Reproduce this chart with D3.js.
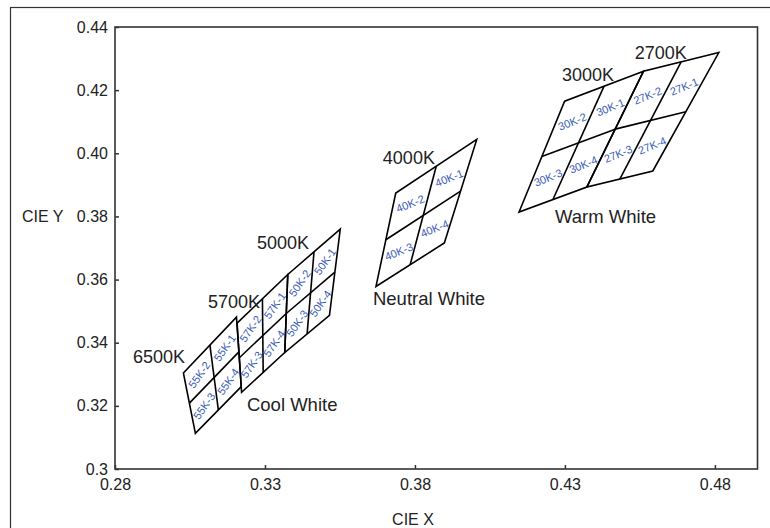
<!DOCTYPE html>
<html>
<head>
<meta charset="utf-8">
<script src="https://cdn.jsdelivr.net/npm/d3@7"></script>
<style>
  body { margin: 0; background: #fff; }
  svg { display: block; }
</style>
</head>
<body>
<script>
// ANSI quadrangle corners, order: top-right, top-left, bottom-left, bottom-right
const q6500 = [[0.3205, 0.3481], [0.3028, 0.3304], [0.3068, 0.3113], [0.3221, 0.3261]]
const q5700 = [[0.3376, 0.3616], [0.3207, 0.3462], [0.3222, 0.3243], [0.3366, 0.3369]]
const q5000 = [[0.3551, 0.3760], [0.3376, 0.3616], [0.3366, 0.3369], [0.3515, 0.3487]]
const q4000 = [[0.4006, 0.4044], [0.3736, 0.3874], [0.3670, 0.3578], [0.3898, 0.3716]]
const q3000 = [[0.4562, 0.4260], [0.4299, 0.4165], [0.4147, 0.3814], [0.4373, 0.3893]]
const q2700 = [[0.4813, 0.4319], [0.4562, 0.4260], [0.4373, 0.3893], [0.4593, 0.3944]]

const quads = [q6500, q5700, q5000, q4000, q3000, q2700]
const binCodes = ['55K', '57K', '50K', '40K', '30K', '27K']
const binAngles = [-55, -55, -55, -22, -22, -22]

const cctLabels = ['6500K', '5700K', '5000K', '4000K', '3000K', '2700K']
const cctLabelPos = [[0.2860, 0.3336], [0.3110, 0.3510], [0.3273, 0.3697], [0.3693, 0.3966], [0.4290, 0.4229], [0.4533, 0.4299]]

const groupLabels = ['Cool White', 'Neutral White', 'Warm White']
const groupLabelPos = [[0.3240, 0.3184], [0.3660, 0.3519], [0.4267, 0.3779]]

const xTicks = [0.28, 0.33, 0.38, 0.43, 0.48]
const xTickLabels = ['0.28', '0.33', '0.38', '0.43', '0.48']
const yTicks = [0.30, 0.32, 0.34, 0.36, 0.38, 0.40, 0.42, 0.44]
const yTickLabels = ['0.3', '0.32', '0.34', '0.36', '0.38', '0.40', '0.42', '0.44']

const W = 770
const H = 528
const font = 'Liberation Sans, Arial, sans-serif'

const svg = d3.select('body').append('svg').attr('width', W).attr('height', H)

// outer figure frame
svg.append('rect').attr('x', 10.5).attr('y', 7.5).attr('width', W).attr('height', H)
  .attr('fill', 'none').attr('stroke', '#333').attr('stroke-width', 1.2)

const x = d3.scaleLinear().domain([0.28, 0.4942]).range([115, 757.5])
const y = d3.scaleLinear().domain([0.3, 0.44]).range([469, 27])

const xAxis = d3.axisBottom(x).tickValues(xTicks)
  .tickFormat((d, i) => xTickLabels[i]).tickSize(-4).tickPadding(10)
const yAxis = d3.axisLeft(y).tickValues(yTicks)
  .tickFormat((d, i) => yTickLabels[i]).tickSize(-4).tickPadding(7)

const gx = svg.append('g').attr('transform', `translate(0,${y.range()[0]})`).call(xAxis)
const gy = svg.append('g').attr('transform', `translate(${x.range()[0]},0)`).call(yAxis)

for (const g of [gx, gy]) {
  g.select('.domain').remove()
  g.selectAll('.tick line').attr('stroke', '#333').attr('stroke-width', 1.5)
  g.selectAll('.tick text').attr('font-family', font).attr('font-size', 16).attr('fill', '#222')
}

// plot box
svg.append('rect')
  .attr('x', x.range()[0]).attr('y', y.range()[1])
  .attr('width', x.range()[1] - x.range()[0]).attr('height', y.range()[0] - y.range()[1])
  .attr('fill', 'none').attr('stroke', '#333').attr('stroke-width', 1.6)

svg.append('text').attr('x', 22).attr('y', 222)
  .attr('font-family', font).attr('font-size', 16).attr('fill', '#222').text('CIE Y')
svg.append('text').attr('x', 413).attr('y', 525)
  .attr('text-anchor', 'middle')
  .attr('font-family', font).attr('font-size', 16).attr('fill', '#222').text('CIE X')

const lerp = (a, b, t) => [a[0] + (b[0] - a[0]) * t, a[1] + (b[1] - a[1]) * t]
const line = d3.line()

quads.forEach((q, qi) => {
  const p = q.map(d => [x(d[0]), y(d[1])])
  const [tr, tl, bl, br] = p
  const mt = lerp(tr, tl, 0.5)
  const mb = lerp(bl, br, 0.5)
  const ml = lerp(tl, bl, 0.5)
  const mr = lerp(tr, br, 0.5)
  const c = lerp(mt, mb, 0.5)

  const g = svg.append('g')
  g.append('path').attr('d', line(p) + 'Z')
    .attr('fill', 'none').attr('stroke', '#000').attr('stroke-width', 1.6)
  g.append('path').attr('d', line([mt, mb]))
    .attr('fill', 'none').attr('stroke', '#000').attr('stroke-width', 1.6)
  g.append('path').attr('d', line([ml, mr]))
    .attr('fill', 'none').attr('stroke', '#000').attr('stroke-width', 1.6)

  const cells = [
    [tr, mt, c, mr],
    [mt, tl, ml, c],
    [c, ml, bl, mb],
    [mr, c, mb, br]
  ]
  cells.forEach((cell, ci) => {
    const cx = d3.mean(cell, d => d[0])
    const cy = d3.mean(cell, d => d[1])
    g.append('text')
      .attr('transform', `translate(${cx},${cy}) rotate(${binAngles[qi]})`)
      .attr('text-anchor', 'middle').attr('dy', '0.35em')
      .attr('font-family', 'Liberation Sans Narrow, Arial Narrow, ' + font)
      .attr('font-size', 11).attr('fill', '#3a5cb8')
      .text(`${binCodes[qi]}-${ci + 1}`)
  })
})

cctLabels.forEach((t, i) => {
  svg.append('text').attr('x', x(cctLabelPos[i][0])).attr('y', y(cctLabelPos[i][1]))
    .attr('font-family', font).attr('font-size', 18).attr('fill', '#222').text(t)
})

groupLabels.forEach((t, i) => {
  svg.append('text').attr('x', x(groupLabelPos[i][0])).attr('y', y(groupLabelPos[i][1]))
    .attr('font-family', font).attr('font-size', 18.5).attr('fill', '#222').text(t)
})
</script>
</body>
</html>
